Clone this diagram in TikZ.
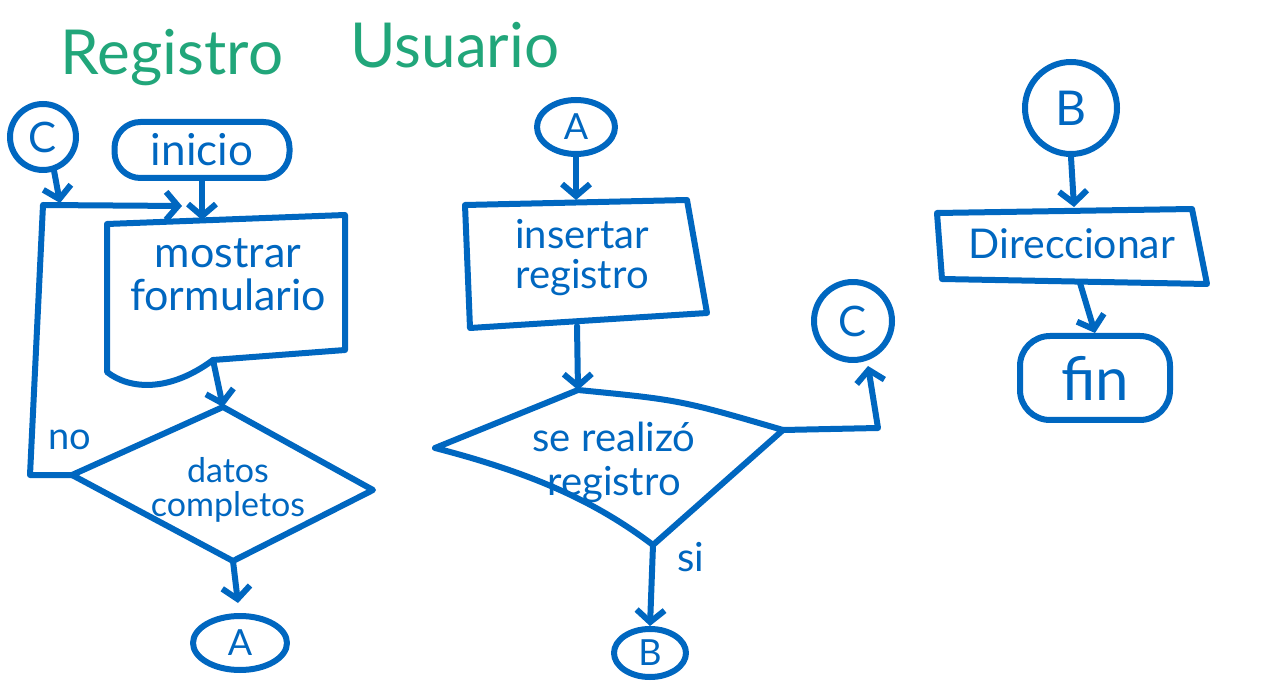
\documentclass[tikz,border=0pt]{standalone}
\usepackage{fontspec}
\setmainfont{Lato}
\usetikzlibrary{arrows.meta,shapes.geometric}
\definecolor{ink}{RGB}{0,103,192}
\definecolor{ttlgreen}{RGB}{33,166,122}
\begin{document}
\begin{tikzpicture}[x=1pt,y=-1pt,
  ln/.style={draw=ink, line width=6pt, line cap=round, line join=round},
  arr/.style={ln, -{Straight Barb[length=12pt,width=28pt]}},
  lbl/.style={text=ink, align=center, inner sep=0pt, font=\fontsize{42}{42}\selectfont},
  ttl/.style={text=ttlgreen, inner sep=0pt, font=\fontsize{62}{66}\selectfont},
  conn/.style={ln, circle, text=ink, inner sep=0pt, font=\fontsize{42}{44}\selectfont},
  oval/.style={ln, ellipse, text=ink, inner sep=0pt, font=\fontsize{36}{38}\selectfont},
  term/.style={ln, rectangle, text=ink, inner sep=0pt, font=\fontsize{44}{46}\selectfont}]
\useasboundingbox[fill=white] (0,0) rectangle (1280,692);

% title
\node[ttl] (t1) at (172,58) {Registro};
\node[ttl] (t2) at (455,45) {Usuario};

% ---------- left column ----------
\node[conn, minimum size=66pt] (c1) at (43,137) {C};
\node[term, rounded corners=26pt, minimum width=175pt, minimum height=56pt] (ini) at (202,150) {inicio};

% document shape
\coordinate (d1) at (107,224);
\coordinate (d2) at (345,215);
\coordinate (d3) at (345,350);
\coordinate (d4) at (213,360);
\coordinate (d5) at (107,372);
\draw[ln] (d1) -- (d2) -- (d3) -- (d4) .. controls (170,392) and (130,390) .. (d5) -- cycle;
\node[lbl, font=\fontsize{43}{43}\selectfont] (mf) at (228,275) {mostrar\\formulario};

% decision 1
\coordinate (q1t) at (223,407);
\coordinate (q1r) at (373,490);
\coordinate (q1b) at (233,561);
\coordinate (q1l) at (72,475);
\draw[ln] (q1t) -- (q1r) -- (q1b) -- (q1l) -- cycle;
\node[lbl, font=\fontsize{34}{34}\selectfont] (dc) at (228,490) {datos\\completos};
\node[lbl, font=\fontsize{38}{40}\selectfont] (no) at (70,440) {no};

\node[oval, minimum width=94pt, minimum height=54pt] (a1) at (240,643) {A};

% loop "no"
\coordinate (lp1) at (30,475);
\coordinate (lp2) at (43,205);
\coordinate (lp3) at (182,206);
\draw[arr] (q1l) -- (lp1) -- (lp2) -- (lp3);
\coordinate (jc) at (60,203);
\draw[arr] (c1.-72) -- (jc);
\coordinate (dtop) at (202,220);
\draw[arr] (ini.south) -- (dtop);
\draw[arr] (d4) -- (q1t);
\coordinate (a1in) at (238,603);
\draw[arr] (q1b) -- (a1in);

% ---------- middle column ----------
\node[oval, minimum width=78pt, minimum height=54pt] (a2) at (576,127) {A};
\coordinate (r1) at (465,205);
\coordinate (r2) at (687,200);
\coordinate (r3) at (707,313);
\coordinate (r4) at (470,328);
\draw[ln] (r1) -- (r2) -- (r3) -- (r4) -- cycle;
\node[lbl, font=\fontsize{40}{40}\selectfont] (ir) at (582,258) {insertar\\registro};
\coordinate (rtop) at (576,200);
\coordinate (rbot) at (577,326);
\draw[arr] (a2.south) -- (rtop);

\coordinate (q2t) at (578,390);
\coordinate (q2r) at (783,430);
\coordinate (q2b) at (653,545);
\coordinate (q2l) at (435,448);
\draw[ln] (q2l) -- (q2t) .. controls (680,400) .. (q2r) -- (q2b) .. controls (600,505) and (540,475) .. (q2l);
\node[lbl, font=\fontsize{40}{44}\selectfont] (sr) at (614,462) {se realizó\\registro};
\draw[arr] (rbot) -- (q2t);

\node[conn, minimum size=78pt] (c2) at (853,321) {C};
\coordinate (cr1) at (878,428);
\coordinate (cr2) at (868,366);
\draw[arr] (q2r) -- (cr1) -- (cr2);

\node[oval, minimum width=72pt, minimum height=48pt] (b1) at (650,653) {B};
\draw[arr] (q2b) -- (b1.north);
\node[lbl, font=\fontsize{40}{42}\selectfont] (si) at (691,557) {si};

% ---------- right column ----------
\node[conn, minimum size=92pt, font=\fontsize{48}{50}\selectfont] (b2) at (1071,108) {B};
\coordinate (e1) at (937,213);
\coordinate (e2) at (1192,209);
\coordinate (e3) at (1207,284);
\coordinate (e4) at (942,279);
\draw[ln] (e1) -- (e2) -- (e3) -- (e4) -- cycle;
\node[lbl, font=\fontsize{41}{42}\selectfont] (dir) at (1072,244) {Direccionar};
\coordinate (etop) at (1074,207);
\coordinate (ebot) at (1080,283);
\draw[arr] (b2.south) -- (etop);

\node[term, rounded corners=30pt, minimum width=150pt, minimum height=84pt, font=\fontsize{60}{62}\selectfont] (fin) at (1095,378) {fin};
\draw[arr] (ebot) -- (fin.north);
\end{tikzpicture}
\end{document}
